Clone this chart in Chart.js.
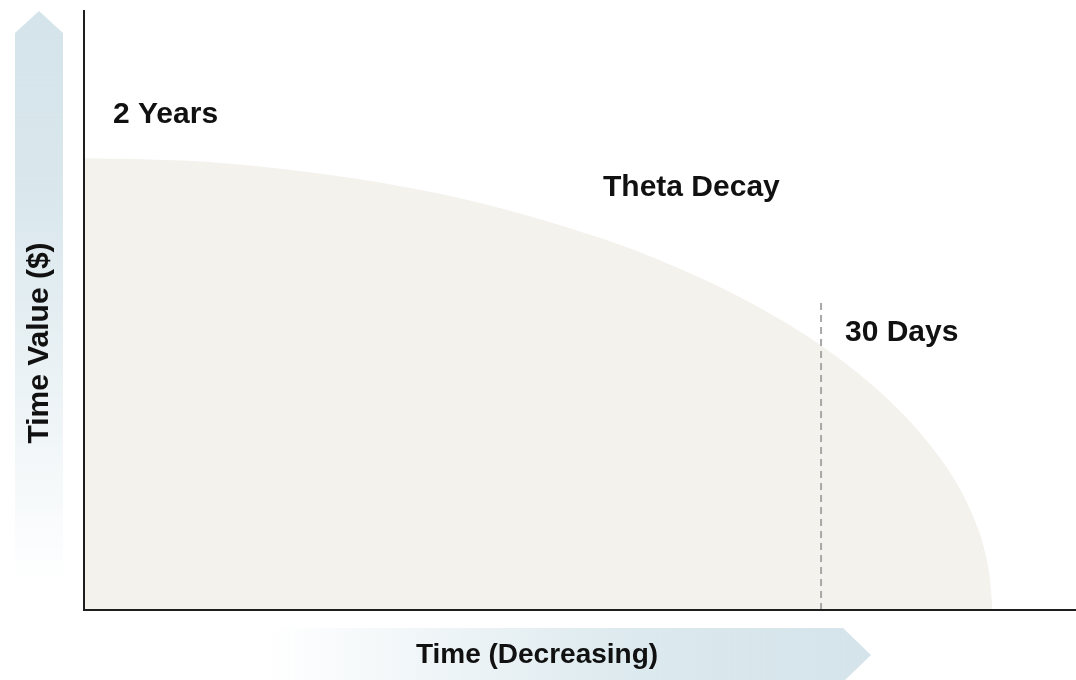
<!DOCTYPE html>
<html>
<head>
<meta charset="utf-8">
<title>Theta Decay</title>
<script src="https://cdn.jsdelivr.net/npm/chart.js@4/dist/chart.umd.min.js"></script>
<style>
  html, body { margin: 0; padding: 0; background: #ffffff; }
  #wrap { width: 1076px; height: 680px; position: relative; }
</style>
</head>
<body>
<div id="wrap"><canvas id="c" width="1076" height="680"></canvas></div>
<script>
// Elapsed time (share of the axis, 0-100) and the option's remaining time value
const elapsed   = [0, 10, 20, 30, 40, 50, 55, 60, 65, 70, 74.3, 78, 82, 85, 87.5, 89.5, 90.7, 91.3, 91.6];
const timeValue = [75.3, 74.9, 73.5, 71.2, 67.8, 63.1, 60.3, 56.9, 53.1, 48.6, 44.1, 39.5, 33.6, 28.1, 22.4, 16.1, 10.5, 5.5, 0];

// Marker for the last 30 days before expiry
const markerAt = 74.3;
const markerTop = 51.7;

// Text
const startLabel = '2 Years';
const curveLabel = 'Theta Decay';
const markerLabel = '30 Days';
const yTitle = 'Time Value ($)';
const xTitle = 'Time (Decreasing)';

const FONT = 'bold 30px "Liberation Sans", Arial, sans-serif';
const ARROW = '212, 228, 234';

const decoration = {
  id: 'decoration',
  beforeDraw(chart) {
    const ctx = chart.ctx;
    ctx.save();
    // vertical arrow, fading downward
    let g = ctx.createLinearGradient(0, 10, 0, 585);
    g.addColorStop(0, `rgba(${ARROW},1)`);
    g.addColorStop(0.35, `rgba(${ARROW},0.85)`);
    g.addColorStop(1, `rgba(${ARROW},0)`);
    ctx.fillStyle = g;
    ctx.beginPath();
    ctx.moveTo(39, 11);
    ctx.lineTo(63, 33);
    ctx.lineTo(63, 585);
    ctx.lineTo(15, 585);
    ctx.lineTo(15, 33);
    ctx.closePath();
    ctx.fill();
    // horizontal arrow, fading leftward
    g = ctx.createLinearGradient(268, 0, 871, 0);
    g.addColorStop(0, `rgba(${ARROW},0)`);
    g.addColorStop(0.6, `rgba(${ARROW},0.8)`);
    g.addColorStop(1, `rgba(${ARROW},1)`);
    ctx.fillStyle = g;
    ctx.beginPath();
    ctx.moveTo(268, 628);
    ctx.lineTo(843, 628);
    ctx.lineTo(871, 655);
    ctx.lineTo(843, 682);
    ctx.lineTo(268, 682);
    ctx.closePath();
    ctx.fill();
    ctx.restore();
  },
  afterDraw(chart) {
    const ctx = chart.ctx;
    const a = chart.chartArea;
    ctx.save();
    // axes
    ctx.strokeStyle = '#1e1e1e';
    ctx.lineWidth = 2;
    ctx.beginPath();
    ctx.moveTo(a.left, a.top);
    ctx.lineTo(a.left, a.bottom);
    ctx.lineTo(a.right, a.bottom);
    ctx.stroke();
    // labels
    ctx.fillStyle = '#111111';
    ctx.font = FONT;
    ctx.textBaseline = 'alphabetic';
    ctx.textAlign = 'left';
    ctx.fillText(startLabel, 113, 123);
    ctx.fillText(curveLabel, 603, 196);
    ctx.fillText(markerLabel, 845, 341);
    ctx.textAlign = 'center';
    ctx.textBaseline = 'middle';
    ctx.font = 'bold 28px "Liberation Sans", Arial, sans-serif';
    ctx.fillText(xTitle, 537, 655);
    ctx.translate(40, 343);
    ctx.rotate(-Math.PI / 2);
    ctx.font = FONT;
    ctx.fillText(yTitle, 0, 0);
    ctx.restore();
  }
};

new Chart(document.getElementById('c'), {
  type: 'line',
  data: {
    datasets: [
      {
        data: elapsed.map((x, i) => ({ x, y: timeValue[i] })),
        fill: 'origin',
        backgroundColor: '#f4f2ed',
        borderWidth: 0,
        borderColor: 'rgba(0,0,0,0)',
        pointRadius: 0,
        cubicInterpolationMode: 'monotone',
        order: 2
      },
      {
        data: [{ x: markerAt, y: 0 }, { x: markerAt, y: markerTop }],
        fill: false,
        borderColor: '#a8a8a8',
        borderWidth: 2,
        borderDash: [7, 5],
        pointRadius: 0,
        order: 1
      }
    ]
  },
  options: {
    responsive: false,
    animation: false,
    layout: { padding: { left: 84, top: 10, right: 0, bottom: 70 } },
    plugins: { legend: { display: false }, tooltip: { enabled: false } },
    scales: {
      x: { type: 'linear', min: 0, max: 100, display: false },
      y: { min: 0, max: 100, display: false }
    }
  },
  plugins: [decoration]
});
</script>
</body>
</html>
